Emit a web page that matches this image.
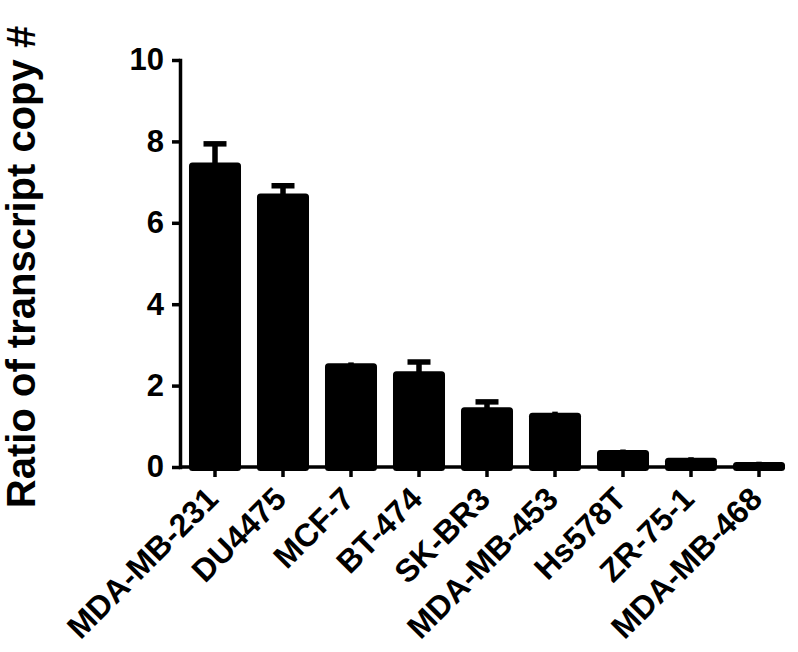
<!DOCTYPE html>
<html>
<head>
<meta charset="utf-8">
<script src="https://cdn.jsdelivr.net/npm/d3@7"></script>
<style>
  html, body { margin: 0; padding: 0; background: #fff; }
  svg { display: block; font-family: 'Liberation Sans', Arial, sans-serif; }
</style>
</head>
<body>
<main></main>
<script>
const cellLines = [
  'MDA-MB-231',
  'DU4475',
  'MCF-7',
  'BT-474',
  'SK-BR3',
  'MDA-MB-453',
  'Hs578T',
  'ZR-75-1',
  'MDA-MB-468',
];
const ratios = [7.48, 6.72, 2.55, 2.35, 1.47, 1.33, 0.42, 0.23, 0.12];
const errors = [0.46, 0.19, 0.02, 0.23, 0.13, 0.03, 0.01, 0.01, 0.01];
const yTicks = [0, 2, 4, 6, 8, 10];

const data = cellLines.map((name, i) => ({
  name,
  value: ratios[i],
  error: errors[i],
}));

const dimensions = {
  width: 798,
  height: 652,
  axisX: 180,
  top: 60,
  bottom: 467,
  barsLeft: 181,
  barsRight: 793,
  axisEnd: 785,
};

const svg = d3
  .select('main')
  .append('svg')
  .attr('width', dimensions.width)
  .attr('height', dimensions.height);

const xScale = d3
  .scaleBand()
  .domain(cellLines)
  .range([dimensions.barsLeft, dimensions.barsRight])
  .paddingInner(0.235)
  .paddingOuter(0.1175);

const yScale = d3
  .scaleLinear()
  .domain([0, 10])
  .range([dimensions.bottom, dimensions.top]);

// bars, drawn a bit past zero so the rounded bottom hides under the axis
const barGroup = svg.append('g');
barGroup
  .selectAll('rect')
  .data(data)
  .join('rect')
  .attr('x', d => xScale(d.name))
  .attr('y', d => yScale(d.value))
  .attr('width', xScale.bandwidth())
  .attr('height', d => yScale(0) - yScale(d.value) + 4)
  .attr('rx', 3.5)
  .attr('fill', '#000');

// error bars (upper only)
const errGroup = svg.append('g').attr('stroke', '#000');
const capHalf = 11.5;
errGroup
  .selectAll('line.stem')
  .data(data)
  .join('line')
  .attr('class', 'stem')
  .attr('x1', d => xScale(d.name) + xScale.bandwidth() / 2)
  .attr('x2', d => xScale(d.name) + xScale.bandwidth() / 2)
  .attr('y1', d => yScale(d.value) + 1)
  .attr('y2', d => yScale(d.value + d.error))
  .attr('stroke-width', 5.5);
errGroup
  .selectAll('line.cap')
  .data(data.filter(d => yScale(d.value) - yScale(d.value + d.error) > 3))
  .join('line')
  .attr('class', 'cap')
  .attr('x1', d => xScale(d.name) + xScale.bandwidth() / 2 - capHalf)
  .attr('x2', d => xScale(d.name) + xScale.bandwidth() / 2 + capHalf)
  .attr('y1', d => yScale(d.value + d.error))
  .attr('y2', d => yScale(d.value + d.error))
  .attr('stroke-width', 5.5);

// y axis
const yAxis = d3
  .axisLeft(yScale)
  .tickValues(yTicks)
  .tickSize(8)
  .tickPadding(8)
  .tickSizeOuter(0);

const yAxisGroup = svg
  .append('g')
  .attr('transform', `translate(${dimensions.axisX} 0)`)
  .call(yAxis);

yAxisGroup
  .selectAll('line, path')
  .attr('stroke', '#000')
  .attr('stroke-width', 3.5);
yAxisGroup
  .selectAll('text')
  .attr('fill', '#000')
  .attr('font-size', 31)
  .attr('font-weight', 'bold');
yAxisGroup.select('path.domain').attr('stroke-linecap', 'square');

// x axis
const xAxisGroup = svg.append('g');
xAxisGroup
  .append('line')
  .attr('x1', dimensions.axisX)
  .attr('x2', dimensions.axisEnd)
  .attr('y1', yScale(0))
  .attr('y2', yScale(0))
  .attr('stroke', '#000')
  .attr('stroke-width', 3.5);

const xTicks = xAxisGroup
  .selectAll('g.tick')
  .data(cellLines)
  .join('g')
  .attr('class', 'tick')
  .attr(
    'transform',
    d => `translate(${xScale(d) + xScale.bandwidth() / 2} ${yScale(0)})`
  );

xTicks
  .append('line')
  .attr('y1', 0)
  .attr('y2', 10)
  .attr('stroke', '#000')
  .attr('stroke-width', 3.5);

xTicks
  .append('text')
  .attr('transform', 'translate(5 34) rotate(-45)')
  .attr('text-anchor', 'end')
  .attr('font-size', 32)
  .attr('font-weight', 'bold')
  .attr('fill', '#000')
  .text(d => d);

// y title
svg
  .append('text')
  .attr('transform', 'translate(35 267) rotate(-90)')
  .attr('text-anchor', 'middle')
  .attr('font-size', 40)
  .attr('font-weight', 'bold')
  .attr('fill', '#000')
  .text('Ratio of transcript copy #');
</script>
</body>
</html>
